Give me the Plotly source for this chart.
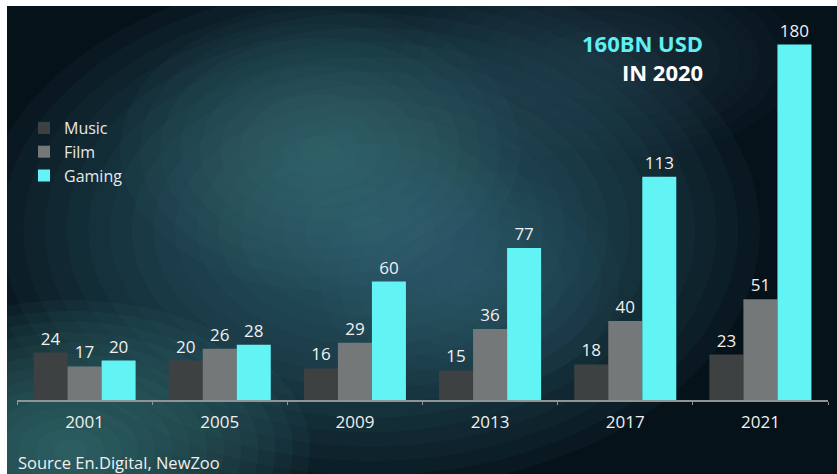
import plotly.graph_objects as go

years = ["2001", "2005", "2009", "2013", "2017", "2021"]
music = [24, 20, 16, 15, 18, 23]
film = [17, 26, 29, 36, 40, 51]
gaming = [20, 28, 60, 77, 113, 180]

colors = {"Music": "#3e4142", "Film": "#747879", "Gaming": "#62f3f5"}

W, H = 837, 474
ML, MR, MT, MB = 17, 9, 5, 74
PW = W - ML - MR
PH = H - MT - MB

def px(x):
    return (x - ML) / PW

def py(y):
    return (H - MB - y) / PH

fig = go.Figure()
for name, vals in [("Music", music), ("Film", film), ("Gaming", gaming)]:
    fig.add_trace(go.Bar(
        x=years, y=vals, name=name,
        marker=dict(color=colors[name], line=dict(width=0)),
        text=[str(v) for v in vals], textposition="outside",
        textfont=dict(color="#f0f0f0", size=17, family="Open Sans"),
        cliponaxis=False,
    ))

shapes = [dict(type="rect", xref="paper", yref="paper", layer="below",
               x0=px(7), x1=px(W), y0=py(6), y1=py(H),
               fillcolor="#06121a", line=dict(width=0))]

def glow(cx, cy, rx, ry, color, n, op):
    for i in range(n):
        f = 1 - i / n
        shapes.append(dict(type="circle", xref="paper", yref="paper", layer="below",
                           x0=px(cx - rx * f), x1=px(cx + rx * f),
                           y0=py(cy + ry * f), y1=py(cy - ry * f),
                           fillcolor=color, opacity=op, line=dict(width=0)))

glow(370, 230, 390, 260, "#3d7781", 18, 0.07)
glow(70, 450, 240, 150, "#4a8a93", 14, 0.07)
glow(600, 60, 200, 100, "#2d5c66", 10, 0.06)
glow(320, 150, 200, 140, "#4d8790", 10, 0.05)
glow(470, 280, 150, 110, "#4d8790", 8, 0.04)

# white border on top/left
shapes.append(dict(type="rect", xref="paper", yref="paper", layer="below",
                   x0=px(0), x1=px(W), y0=py(6), y1=py(0),
                   fillcolor="white", line=dict(width=0)))
shapes.append(dict(type="rect", xref="paper", yref="paper", layer="below",
                   x0=px(0), x1=px(7), y0=py(H), y1=py(0),
                   fillcolor="white", line=dict(width=0)))

fig.update_layout(
    width=W, height=H,
    margin=dict(l=ML, r=MR, t=MT, b=MB),
    paper_bgcolor="white", plot_bgcolor="rgba(0,0,0,0)",
    barmode="group", bargap=0.245, bargroupgap=0,
    font=dict(family="Open Sans", color="#f0f0f0"),
    showlegend=True,
    legend=dict(x=px(24), y=py(111), xanchor="left", yanchor="top",
                bgcolor="rgba(0,0,0,0)", font=dict(size=16, color="#e8e8e8"),
                tracegroupgap=0, itemwidth=30),
    xaxis=dict(type="category", range=[-0.5, 5.5], showgrid=False,
               showline=True, linecolor="#8f9597", linewidth=1.5,
               ticks="outside", tickson="boundaries", ticklen=3, tickcolor="#8f9597",
               ticklabelstandoff=6,
               tickfont=dict(size=17, color="#f0f0f0"), zeroline=False),
    yaxis=dict(range=[0, 200], visible=False, showgrid=False, zeroline=False),
    shapes=shapes,
    annotations=[
        dict(text="<b><span style='color:#5ef0f2'>160BN USD</span><br>IN 2020</b>",
             x=px(705), y=py(57), xref="paper", yref="paper",
             xanchor="right", yanchor="middle", align="right", showarrow=False,
             font=dict(size=22, color="#ffffff", family="Open Sans")),
        dict(text="Source En.Digital, NewZoo", x=px(16), y=py(462), xref="paper", yref="paper",
             xanchor="left", yanchor="middle", showarrow=False,
             font=dict(size=16.5, color="#f0f0f0", family="Open Sans")),
    ],
)

fig.write_html("out.html", config={"displayModeBar": False},
               post_script="document.body.style.margin='0';document.body.style.overflow='hidden';")
